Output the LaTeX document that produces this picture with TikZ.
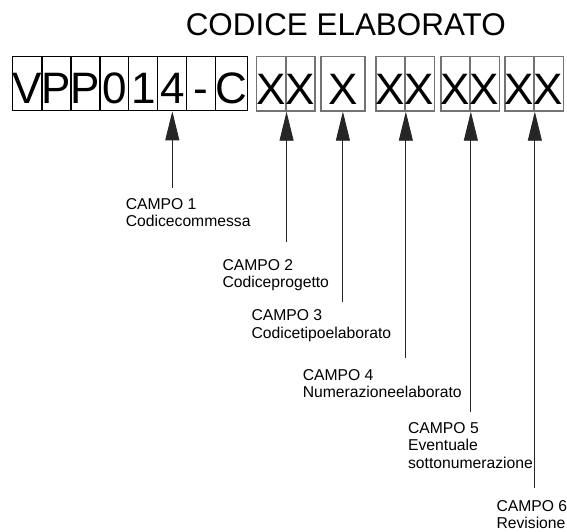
\documentclass[tikz,border=0pt]{standalone}
\usepackage{fontspec}
\setmainfont{Liberation Sans}
\usetikzlibrary{arrows.meta,calc}
\tikzset{
  cellA/.style={draw=black, line width=0.8pt, minimum width=29pt, minimum height=54.5pt,
    inner sep=0pt, text height=47.5pt, text depth=7pt, anchor=north west,
    font=\fontsize{44}{44}\selectfont},
  cellB/.style={cellA, draw=black!55, line width=1.2pt},
  cellW/.style={cellB, minimum width=44pt},
  conn/.style={draw=black!85, line width=0.9pt, -{Triangle[length=29pt,width=14pt]}},
  lab/.style={anchor=north west, inner sep=0pt, align=left,
    font=\fontsize{15.7}{17.5}\selectfont},
  ttl/.style={anchor=base west, inner sep=0pt, font=\fontsize{31.4}{31.4}\selectfont}
}
\begin{document}
\begin{tikzpicture}[x=1pt,y=-1pt]
\useasboundingbox (0,0) rectangle (567,532);
\node[ttl] (title) at (185.6,35.8) {CODICE ELABORATO};
% group 1
\node[cellA] (c1) at (12.4,56) {V};
\node[cellA] (c2) at (41.4,56) {P};
\node[cellA] (c3) at (70.4,56) {P};
\node[cellA] (c4) at (99.4,56) {0};
\node[cellA] (c5) at (128.4,56) {1};
\node[cellA] (c6) at (157.4,56) {4};
\node[cellA] (c7) at (186.4,56) {-};
\node[cellA] (c8) at (215.4,56) {C};
% other groups
\node[cellB] (x1) at (256,56) {X};
\node[cellB] (x2) at (285,56) {X};
\node[cellW] (x3) at (320.3,56) {X};
\node[cellB] (x4) at (375.3,56) {X};
\node[cellB] (x5) at (404.3,56) {X};
\node[cellB] (x6) at (440.3,56) {X};
\node[cellB] (x7) at (469.3,56) {X};
\node[cellB] (x8) at (504.3,56) {X};
\node[cellB] (x9) at (533.3,56) {X};
% labels
\node[lab] (l1) at (125.6,197.9) {CAMPO 1\\Codicecommessa};
\node[lab] (l2) at (222.3,259.3) {CAMPO 2\\Codiceprogetto};
\node[lab] (l3) at (251.3,309.6) {CAMPO 3\\Codicetipoelaborato};
\node[lab] (l4) at (302.6,369.3) {CAMPO 4\\Numerazioneelaborato};
\node[lab] (l5) at (407.9,421.9) {CAMPO 5\\Eventuale\\sottonumerazione};
\node[lab] (l6) at (496.3,500.3) {CAMPO 6\\Revisione};
% connector free ends
\coordinate (e1) at ($(c6.south)+(0,76.5)$);
\coordinate (e2) at ($(x1.south east)+(0,130.5)$);
\coordinate (e3) at ($(x3.south)+(0,190.5)$);
\coordinate (e4) at ($(x4.south east)+(0,246.5)$);
\coordinate (e5) at ($(x6.south east)+(0,300.5)$);
\coordinate (e6) at ($(x8.south east)+(0,376.5)$);
\draw[conn] (e1) -- (c6.south);
\draw[conn] (e2) -- (x1.south east);
\draw[conn] (e3) -- (x3.south);
\draw[conn] (e4) -- (x4.south east);
\draw[conn] (e5) -- (x6.south east);
\draw[conn] (e6) -- (x8.south east);
\end{tikzpicture}
\end{document}
